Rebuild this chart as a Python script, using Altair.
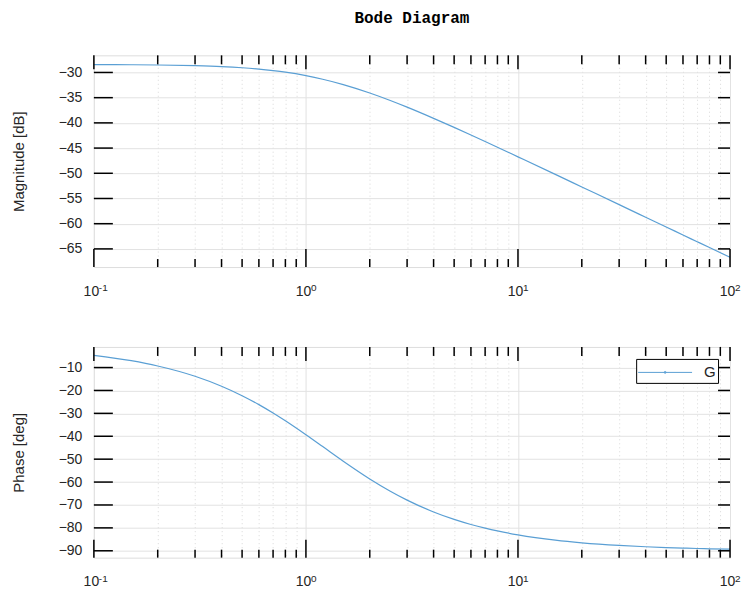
import altair as alt
import pandas as pd

# ---- data ----
freq = [0.1, 0.15, 0.2, 0.3, 0.4, 0.5, 0.6, 0.7, 0.8, 1.0, 1.2, 1.5, 2, 2.5, 3, 4, 5, 6, 7, 8,
        10, 15, 20, 30, 40, 50, 60, 70, 80, 100]
magnitude_db = [-28.43, -28.47, -28.52, -28.66, -28.84, -29.07, -29.34, -29.64, -29.95, -30.63,
                -31.34, -32.40, -34.07, -35.56, -36.88, -39.10, -40.90, -42.41, -43.70, -44.83,
                -46.74, -50.22, -52.71, -56.22, -58.72, -60.66, -62.24, -63.58, -64.74, -66.67]
phase_deg = [-4.69, -7.01, -9.31, -13.81, -18.16, -22.29, -26.19, -29.85, -33.26, -39.35,
             -44.52, -50.88, -58.62, -63.99, -67.87, -73.04, -76.29, -78.51, -80.11, -81.33,
             -83.04, -85.35, -86.51, -87.67, -88.25, -88.60, -88.84, -89.00, -89.13, -89.30]
series_name = "G"

x_major = [0.1, 1, 10, 100]
x_labels = ["10", "10", "10", "10"]
x_exponents = ["-1", "0", "1", "2"]
x_minor = [0.2, 0.3, 0.4, 0.5, 0.6, 0.7, 0.8, 0.9,
           2, 3, 4, 5, 6, 7, 8, 9,
           20, 30, 40, 50, 60, 70, 80, 90]
mag_ticks = [-65, -60, -55, -50, -45, -40, -35, -30]
phase_ticks = [-90, -80, -70, -60, -50, -40, -30, -20, -10]

mag_domain = [-68.6, -26.6]
phase_domain = [-93.0, -1.0]

# ---- styling ----
W = 637
H_TOP, H_BOT = 212, 211
LINE = "#5a9fd4"
TXT = "#262626"
FONT = "Liberation Sans"

df = pd.DataFrame({"freq": freq, "mag": magnitude_db, "phase": phase_deg,
                   "series": [series_name] * len(freq)})
exp_df = pd.DataFrame({"freq": x_major, "exp": x_exponents})

xscale = alt.Scale(type="log", domain=[0.1, 100], nice=False)

major_list = "[" + ",".join(str(v) for v in x_major) + "]"
test_major = f"indexof({major_list}, datum.value) >= 0"
label_expr = "''"
for v, lab in reversed(list(zip(x_major, x_labels))):
    label_expr = f"datum.value == {v} ? '{lab}' : ({label_expr})"

x_axis = alt.Axis(
    values=x_major + x_minor, labelExpr=label_expr, grid=True,
    gridDash={"condition": {"test": test_major, "value": []}, "value": [1, 3]},
    gridColor={"condition": {"test": test_major, "value": "#e2e2e2"}, "value": "#d8d8d8"},
    gridWidth=1, ticks=False, tickSize=0, domain=False, labelFont=FONT, labelFontSize=14,
    labelColor=TXT, labelPadding=17, labelOffset=-3, labelFlush=False, labelOverlap=False,
    title=None,
)


def y_axis(values, title):
    return alt.Axis(
        values=values, grid=True, gridColor="#e2e2e2", ticks=False, tickSize=0, domain=False,
        labelFont=FONT, labelFontSize=14, labelColor=TXT, labelPadding=12, labelFlush=False,
        labelOverlap=False, title=title, titleFont=FONT, titleFontSize=15,
        titleFontWeight="normal", titleColor=TXT, titlePadding=32,
    )


def extra_layers(yfield, yscale, yaxis, yvals, h):
    layers = []
    specs = [(x_major, 0, 14), (x_minor, 0, 9), (x_major, h, h - 18), (x_minor, h, h - 8)]
    for vals, a, b in specs:
        layers.append(
            alt.Chart(pd.DataFrame({"freq": vals})).mark_rule(color="#000", strokeWidth=1.5)
            .encode(x=alt.X("freq:Q", scale=xscale, axis=x_axis), y=alt.value(a), y2=alt.value(b))
        )
    for a, b in [(0, 19), (W, W - 12)]:
        layers.append(
            alt.Chart(pd.DataFrame({yfield: yvals})).mark_rule(color="#000", strokeWidth=1.5)
            .encode(y=alt.Y(f"{yfield}:Q", scale=yscale, axis=yaxis), x=alt.value(a), x2=alt.value(b))
        )
    # superscript exponents of the 10^n labels
    layers.append(
        alt.Chart(exp_df).mark_text(align="left", baseline="alphabetic", dx=5, font=FONT,
                                    fontSize=10, color=TXT)
        .encode(x=alt.X("freq:Q", scale=xscale, axis=x_axis), y=alt.value(h + 24), text="exp:N")
    )
    return layers


mag_scale = alt.Scale(domain=mag_domain, nice=False, zero=False)
phase_scale = alt.Scale(domain=phase_domain, nice=False, zero=False)
mag_axis = y_axis(mag_ticks, "Magnitude [dB]")
phase_axis = y_axis(phase_ticks, "Phase [deg]")

mag_line = alt.Chart(df).mark_line(color=LINE, strokeWidth=1.2, interpolate="monotone").encode(
    x=alt.X("freq:Q", scale=xscale, axis=x_axis),
    y=alt.Y("mag:Q", scale=mag_scale, axis=mag_axis),
)

legend_path = "M-2.4545,0H2.4545M0.09,0A0.09,0.09,0,1,1,-0.09,0A0.09,0.09,0,1,1,0.09,0"
phase_line = alt.Chart(df).mark_line(strokeWidth=1.2, interpolate="monotone").encode(
    x=alt.X("freq:Q", scale=xscale, axis=x_axis),
    y=alt.Y("phase:Q", scale=phase_scale, axis=phase_axis),
    color=alt.Color("series:N", scale=alt.Scale(range=[LINE]), legend=alt.Legend(
        title=None, orient="top-right", offset=12, padding=2, strokeColor="#000",
        fillColor="#fff", cornerRadius=0, symbolType=legend_path, symbolSize=484,
        symbolStrokeWidth=1, symbolOffset=15.5, labelOffset=27.5, labelFontSize=15,
        labelFont=FONT, labelColor=TXT)),
)

top = alt.layer(mag_line, *extra_layers("mag", mag_scale, mag_axis, mag_ticks, H_TOP)).properties(
    width=W, height=H_TOP,
    title=alt.Title("Bode Diagram", font="Liberation Mono", fontSize=16, fontWeight="bold",
                    anchor="middle", frame="group", offset=29, color="#000"),
)
bottom = alt.layer(phase_line, *extra_layers("phase", phase_scale, phase_axis, phase_ticks, H_BOT)).properties(
    width=W, height=H_BOT,
)

chart = alt.vconcat(top, bottom, spacing=46).resolve_scale(color="independent").properties(
    padding={"left": 10, "top": 8, "right": 2, "bottom": 2}
).configure_view(stroke="#262626", strokeWidth=1).configure(background="white")

chart.save("out.html", embed_options={"renderer": "svg", "actions": False})
